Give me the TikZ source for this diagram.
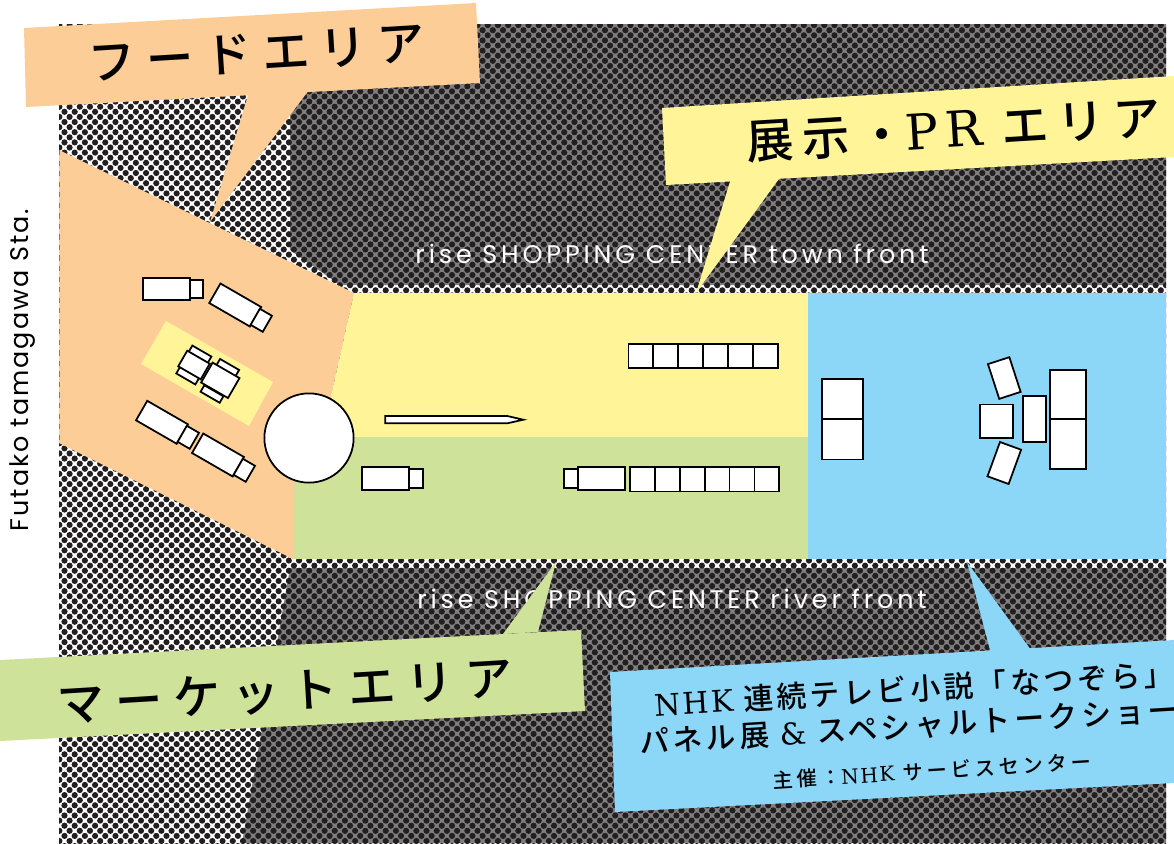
\documentclass[tikz,border=0pt]{standalone}
\usepackage{tikz}
\usetikzlibrary{patterns.meta}
\usepackage{xcolor}
\usepackage{fontspec}
\setmainfont{Poppins}
\newfontfamily\jpfont[LetterSpace=18]{Noto Sans CJK JP Medium}
\newfontfamily\jpfood[LetterSpace=22]{Noto Sans CJK JP Medium}
\newfontfamily\jpwide[LetterSpace=23]{Noto Sans CJK JP Medium}
\newfontfamily\jpsmall[LetterSpace=12]{Noto Sans CJK JP Medium}
\newfontfamily\jpline[LetterSpace=19]{Noto Sans CJK JP Medium}
\newfontfamily\slabfont[LetterSpace=8]{DejaVu Serif}
\newfontfamily\slabwide[LetterSpace=14]{DejaVu Serif}
\newfontfamily\sitefont[LetterSpace=15]{Poppins}
\newfontfamily\stationfont[LetterSpace=8]{Poppins}
\definecolor{foodorange}{RGB}{253,205,152}
\definecolor{pryellow}{RGB}{255,244,152}
\definecolor{marketgreen}{RGB}{207,226,154}
\definecolor{nhkblue}{RGB}{140,214,248}
\definecolor{dotink}{RGB}{35,31,32}
\definecolor{darkbase}{RGB}{128,126,126}
\tikzset{
    stall/.style={draw=black, fill=white, line width=1pt, inner sep=0pt, outer sep=0pt, minimum width=#1},
    sitelabel/.style={white, font=\sitefont\fontsize{14.5}{14.5}\selectfont, inner sep=0pt},
}
\begin{document}
\begin{tikzpicture}[x=0.02cm, y=-0.02cm]
    \useasboundingbox (0,0) rectangle (1174,843);

    % Halftone ground
    \fill[darkbase] (290,24) -- (1166,24) -- (1166,285) -- (340,285) -- (290,250) -- cycle;
    \fill[darkbase] (290,568) -- (1166,568) -- (1166,843) -- (242,843) -- cycle;
    \fill[pattern={Dots[distance=0.14425cm, radius=0.062cm, angle=45, xshift=0.168cm, yshift=0.04cm]}, pattern color=dotink] (59,24) rectangle (1166,843);

    % Areas
    \fill[foodorange] (59,150) -- (354,293) -- (322,437) -- (293,437) -- (293,559) -- (59,443) -- cycle;
    \fill[pryellow] (354,293) -- (808,293) -- (808,437) -- (322,437) -- cycle;
    \fill[marketgreen] (293,437) -- (808,437) -- (808,559) -- (293,559) -- cycle;
    \fill[nhkblue] (808,293) -- (1166,293) -- (1166,559) -- (808,559) -- cycle;
    \fill[pryellow] (166,321) -- (273,382) -- (249,426) -- (141,364) -- cycle;
    \draw[darkbase, line width=0.4pt, dashed] (59,150) -- (59,443);

    % Road names
    \node[sitelabel] (townfront) at (672,254) {rise SHOPPING CENTER town front};
    \node[sitelabel] (riverfront) at (672,599) {rise SHOPPING CENTER river front};
    \node[black, rotate=90, inner sep=0pt, font=\stationfont\fontsize{14.5}{14.5}\selectfont] (station) at (23,370) {Futako tamagawa Sta.};

    % Stage circle
    \node[stall=1.785cm, circle] (stage) at (309,438) {};

    % Trucks in the food area
    \node[stall=0.94cm, minimum height=0.45cm] (truckA) at (166.6,289) {};
    \node[stall=0.27cm, minimum height=0.37cm] (cabA) at (196.6,289) {};
    \node[stall=0.94cm, minimum height=0.45cm, rotate=-30] (truckB) at (235.2,305) {};
    \node[stall=0.28cm, minimum height=0.37cm, rotate=-30] (cabB) at (261.3,320.3) {};
    \node[stall=0.94cm, minimum height=0.45cm, rotate=-30] (truckC) at (162,422.3) {};
    \node[stall=0.28cm, minimum height=0.37cm, rotate=-30] (cabC) at (188.3,437.3) {};
    \node[stall=0.94cm, minimum height=0.45cm, rotate=-30] (truckD) at (218,455) {};
    \node[stall=0.28cm, minimum height=0.37cm, rotate=-30] (cabD) at (244.3,470.3) {};

    % Tables and chairs on the yellow mat
    \node[stall=0.44cm, minimum height=0.15cm, rotate=-30] (chairA) at (200,354.3) {};
    \node[stall=0.44cm, minimum height=0.15cm, rotate=-30] (chairB) at (187.7,375.7) {};
    \node[stall=0.44cm, minimum height=0.15cm, rotate=-30] (chairC) at (227.7,367.7) {};
    \node[stall=0.44cm, minimum height=0.15cm, rotate=-30] (chairD) at (212,394) {};
    \node[stall=0.52cm, minimum height=0.36cm, rotate=-30] (tableA) at (194,365) {};
    \node[stall=0.62cm, minimum height=0.46cm, rotate=-30] (tableB) at (220.3,380.3) {};

    % Market stalls
    \node[stall=0.94cm, minimum height=0.45cm] (truckE) at (385.8,478.4) {};
    \node[stall=0.27cm, minimum height=0.37cm] (cabE) at (416,478.4) {};
    \node[stall=0.28cm, minimum height=0.38cm] (cabF) at (571.3,478.2) {};
    \node[stall=0.94cm, minimum height=0.45cm] (truckF) at (601.7,478.5) {};
    \foreach \i in {0,...,5} {
        \node[stall=0.4966cm, minimum height=0.49cm] (marketbox\i) at ({642.7+24.83*\i},479.2) {};
    }

    % Exhibition row and banner
    \foreach \i in {0,...,5} {
        \node[stall=0.4966cm, minimum height=0.49cm] (prbox\i) at ({640.8+24.93*\i},356) {};
    }
    \draw[black, fill=white, line width=1pt] (385.3,416) -- (507.3,416) -- (523.3,419.7) -- (507.3,423.3) -- (385.3,423.3) -- cycle;

    % Blue area furniture
    \node[stall=0.82cm, minimum height=0.81cm] (panelA) at (842.8,399) {};
    \node[stall=0.82cm, minimum height=0.81cm] (panelB) at (842.8,439.3) {};
    \node[stall=0.73cm, minimum height=0.99cm] (panelC) at (1068,394.5) {};
    \node[stall=0.73cm, minimum height=1.00cm] (panelD) at (1068,444.3) {};
    \node[stall=0.46cm, minimum height=0.93cm] (lectern) at (1034.5,419) {};
    \node[stall=0.67cm, minimum height=0.67cm] (table) at (996.5,421.2) {};
    \node[stall=0.45cm, minimum height=0.73cm, rotate=18] (seatA) at (1004.3,378) {};
    \node[stall=0.45cm, minimum height=0.73cm, rotate=-20] (seatB) at (1004.3,463) {};

    % Food area bubble
    \fill[foodorange] (24,28) -- (476,3) -- (480,83) -- (26,107) -- cycle;
    \fill[foodorange] (248,95) -- (309,90) -- (210,222) -- cycle;
    \node[black, rotate=3.5, inner sep=0pt, font=\jpfood\fontsize{27}{27}\selectfont] (foodtitle) at (257,53) {フードエリア};

    % Exhibition bubble
    \fill[pryellow] (662,108) -- (1174,76) -- (1174,157) -- (666,185) -- cycle;
    \fill[pryellow] (732,175) -- (784,172) -- (696,293) -- cycle;
    \node[black, rotate=3.5, inner sep=0pt, anchor=west, font=\jpfont\fontsize{27}{27}\selectfont] (prtitle) at (746,143) {展示・{\slabwide\fontsize{28}{28}\selectfont PR} エリア};

    % Market bubble
    \fill[marketgreen] (0,660) -- (581,630) -- (585,711) -- (0,741) -- cycle;
    \fill[marketgreen] (503,634) -- (538,632) -- (556,562) -- cycle;
    \node[black, rotate=3.5, inner sep=0pt, font=\jpwide\fontsize{27}{27}\selectfont] (markettitle) at (285,692) {マーケットエリア};

    % Talk show bubble
    \fill[nhkblue] (610,672) -- (1174,640) -- (1174,783) -- (615,812) -- cycle;
    \fill[nhkblue] (991,654) -- (1031,650) -- (967,562) -- cycle;
    \node[black, rotate=3.5, inner sep=0pt, font=\jpsmall\fontsize{17}{17}\selectfont] (talkA) at (914,689) {{\slabfont NHK} 連続テレビ小説「なつぞら」};
    \node[black, rotate=3.5, inner sep=0pt, anchor=west, font=\jpsmall\fontsize{17}{17}\selectfont] (talkB) at (639,743) {パネル展 {\slabfont\&} スペシャルトークショー};
    \node[black, rotate=3.5, inner sep=0pt, font=\jpline\fontsize{11.5}{11.5}\selectfont] (talkC) at (932,771) {主催：{\slabfont NHK} サービスセンター};
\end{tikzpicture}
\end{document}
